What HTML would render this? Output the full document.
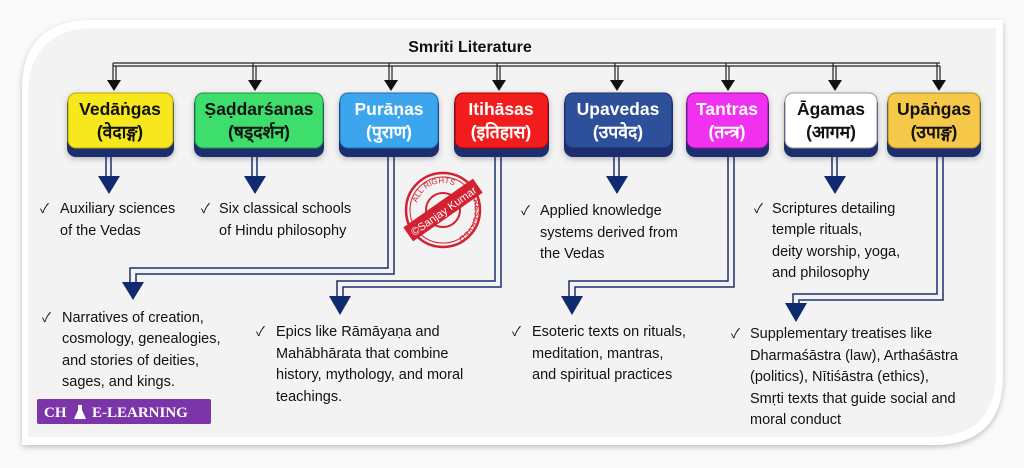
<!DOCTYPE html>
<html><head><meta charset="utf-8"><style>
html,body{margin:0;padding:0;background:#fff;}
svg{display:block;}
text{font-family:"Liberation Sans","Noto Sans CJK SC",sans-serif;}
.t{font-size:14.5px;fill:#111;}
.h{font-size:17.5px;font-weight:bold;text-anchor:middle;}
.ck{font-size:13px;fill:#111;}
</style></head><body>
<svg width="1024" height="468" viewBox="0 0 1024 468" xmlns="http://www.w3.org/2000/svg">
<defs>
<filter id="sh" x="-10%" y="-10%" width="120%" height="130%"><feDropShadow dx="0" dy="2" stdDeviation="3" flood-color="#000" flood-opacity="0.25"/></filter>
<path id="arcTop" d="M-27,0 A27,27 0 0 1 27,0"/>
<path id="arcBot" d="M30,-10 A31,31 0 0 1 -8,30"/>
</defs>
<rect x="0" y="0" width="1024" height="468" fill="#fafafa"/>
<path d="M92,20 H1003 V375 Q1003,445 933,445 H22 V90 Q22,20 92,20 Z" fill="#ffffff" filter="url(#sh)"/>
<path d="M96,28 H996 V372 Q996,437 931,437 H28 V96 Q28,28 96,28 Z" fill="#f3f3f3"/>
<text x="470" y="52" text-anchor="middle" style="font-size:16px;font-weight:bold;fill:#111">Smriti Literature</text>
<g stroke="#222" stroke-width="1.2" fill="none">
<path d="M113,63 H940 M113,66 H940"/>
<path d="M113,63 V80 M116,66 V80 M253,63 V80 M256,66 V80 M389,63 V80 M392,66 V80 M497,63 V80 M500,66 V80 M615,63 V80 M618,66 V80 M726,63 V80 M729,66 V80 M833,63 V80 M836,66 V80 M937,63 V80 M940,66 V80"/>
</g>
<g fill="#111">
<polygon points="107,80 121,80 114,91"/><polygon points="248,80 262,80 255,91"/><polygon points="384,80 398,80 391,91"/><polygon points="492,80 506,80 499,91"/>
<polygon points="610,80 624,80 617,91"/><polygon points="721,80 735,80 728,91"/><polygon points="828,80 842,80 835,91"/><polygon points="932,80 946,80 939,91"/>
</g>
<g filter="url(#sh)">
<rect x="67" y="95" width="107" height="62" rx="9" fill="#1e2f6e"/>
<rect x="68" y="93" width="105" height="55" rx="8" fill="#f6e81c" stroke="#b8a800"/>
<rect x="194" y="95" width="130" height="62" rx="9" fill="#1e2f6e"/>
<rect x="195" y="93" width="128" height="55" rx="8" fill="#3ede6c" stroke="#1a9a40"/>
<rect x="339" y="95" width="100" height="62" rx="9" fill="#1e2f6e"/>
<rect x="340" y="93" width="98" height="55" rx="8" fill="#3aa6ee" stroke="#1a70b0"/>
<rect x="454" y="95" width="95" height="62" rx="9" fill="#1e2f6e"/>
<rect x="455" y="93" width="93" height="55" rx="8" fill="#f21c1c" stroke="#a00"/>
<rect x="564" y="95" width="109" height="62" rx="9" fill="#1e2f6e"/>
<rect x="565" y="93" width="107" height="55" rx="8" fill="#2f4f9a" stroke="#1e2f6e"/>
<rect x="686" y="95" width="83" height="62" rx="9" fill="#1e2f6e"/>
<rect x="687" y="93" width="81" height="55" rx="8" fill="#f030f0" stroke="#a010a0"/>
<rect x="784" y="95" width="94" height="62" rx="9" fill="#1e2f6e"/>
<rect x="785" y="93" width="92" height="55" rx="8" fill="#ffffff" stroke="#999"/>
<rect x="887" y="95" width="94" height="62" rx="9" fill="#1e2f6e"/>
<rect x="888" y="93" width="92" height="55" rx="8" fill="#f5c84a" stroke="#b08a20"/>
</g>
<text x="120" y="115" class="h" fill="#111">Vedāṅgas</text><text x="120" y="138" class="h" fill="#111">(वेदाङ्ग)</text>
<text x="259" y="115" class="h" fill="#111">Ṣaḍdarśanas</text><text x="259" y="138" class="h" fill="#111">(षड्दर्शन)</text>
<text x="389" y="115" class="h" fill="#fff">Purāṇas</text><text x="389" y="138" class="h" fill="#fff">(पुराण)</text>
<text x="501" y="115" class="h" fill="#fff">Itihāsas</text><text x="501" y="138" class="h" fill="#fff">(इतिहास)</text>
<text x="618" y="115" class="h" fill="#fff">Upavedas</text><text x="618" y="138" class="h" fill="#fff">(उपवेद)</text>
<text x="727" y="115" class="h" fill="#fff">Tantras</text><text x="727" y="138" class="h" fill="#fff">(तन्त्र)</text>
<text x="831" y="115" class="h" fill="#111">Āgamas</text><text x="831" y="138" class="h" fill="#111">(आगम)</text>
<text x="934" y="115" class="h" fill="#111">Upāṅgas</text><text x="934" y="138" class="h" fill="#111">(उपाङ्ग)</text>
<g stroke="#1e2f6e" stroke-width="1.5" fill="none">
<path d="M106,157 V176 M111,157 V176 M252,157 V176 M257,157 V176 M614,157 V176 M619,157 V176 M832,157 V176 M837,157 V176"/>
<path d="M388,157 V268 H130 V282 M394,157 V274 H136 V282"/>
<path d="M495,157 V281 H337 V296 M501,157 V287 H343 V296"/>
<path d="M728,157 V281 H569 V296 M734,157 V287 H575 V296"/>
<path d="M937,157 V294 H793 V303 M943,157 V300 H799 V303"/>
</g>
<g fill="#0f2a6e">
<polygon points="98,176 120,176 109,194"/><polygon points="244,176 266,176 255,194"/><polygon points="606,176 628,176 617,194"/><polygon points="824,176 846,176 835,194"/>
<polygon points="122,282 144,282 133,300"/><polygon points="329,296 351,296 340,315"/><polygon points="561,296 583,296 572,315"/><polygon points="785,303 807,303 796,322"/>
</g>
<g transform="translate(443,210)" fill="none" stroke="#d42030">
<circle r="37" stroke-width="2.5"/><circle r="33" stroke-width="1"/><circle r="17" stroke-width="2"/>
<rect x="-42" y="-8" width="84" height="16" fill="#d42030" transform="rotate(-35)"/>
<text transform="rotate(-35)" x="0" y="5" text-anchor="middle" fill="#fff" stroke="none" style="font-size:11px">©Sanjay Kumar</text>
<g transform="rotate(-25)"><text fill="#d42030" stroke="none" style="font-size:8px" text-anchor="middle"><textPath href="#arcTop" startOffset="50%">ALL RIGHTS</textPath></text></g>
<text fill="#d42030" stroke="none" style="font-size:8px"><textPath href="#arcBot">RESERVED</textPath></text>
</g>
<text class="ck" x="40" y="213">✓</text><text class="t" x="60" y="213">Auxiliary sciences</text><text class="t" x="60" y="235">of the Vedas</text>
<text class="ck" x="201" y="213">✓</text><text class="t" x="219" y="213">Six classical schools</text><text class="t" x="219" y="235">of Hindu philosophy</text>
<text class="ck" x="521" y="215">✓</text><text class="t" x="540" y="215">Applied knowledge</text><text class="t" x="540" y="237">systems derived from</text><text class="t" x="540" y="258">the Vedas</text>
<text class="ck" x="754" y="213">✓</text><text class="t" x="772" y="213">Scriptures detailing</text><text class="t" x="772" y="234">temple rituals,</text><text class="t" x="772" y="256">deity worship, yoga,</text><text class="t" x="772" y="277">and philosophy</text>
<text class="ck" x="42" y="322">✓</text><text class="t" x="62" y="322">Narratives of creation,</text><text class="t" x="62" y="343">cosmology, genealogies,</text><text class="t" x="62" y="365">and stories of deities,</text><text class="t" x="62" y="386">sages, and kings.</text>
<text class="ck" x="256" y="336">✓</text><text class="t" x="276" y="336">Epics like Rāmāyaṇa and</text><text class="t" x="276" y="358">Mahābhārata that combine</text><text class="t" x="276" y="379">history, mythology, and moral</text><text class="t" x="276" y="401">teachings.</text>
<text class="ck" x="512" y="336">✓</text><text class="t" x="532" y="336">Esoteric texts on rituals,</text><text class="t" x="532" y="358">meditation, mantras,</text><text class="t" x="532" y="379">and spiritual practices</text>
<text class="ck" x="731" y="338">✓</text><text class="t" x="750" y="338">Supplementary treatises like</text><text class="t" x="750" y="360">Dharmaśāstra (law), Arthaśāstra</text><text class="t" x="750" y="381">(politics), Nītiśāstra (ethics),</text><text class="t" x="750" y="403">Smṛti texts that guide social and</text><text class="t" x="750" y="424">moral conduct</text>
<rect x="37" y="399" width="174" height="25" rx="2" fill="#7b35a8"/>
<text x="44" y="417" style="font-family:'Liberation Serif',serif;font-weight:bold;font-size:15px;fill:#fff">CH</text>
<path d="M78,405 h4 v5 l4,9 h-12 l4,-9z" fill="#fff"/>
<text x="92" y="417" style="font-family:'Liberation Serif',serif;font-weight:bold;font-size:15px;fill:#fff">E-LEARNING</text>
</svg>
</body></html>
